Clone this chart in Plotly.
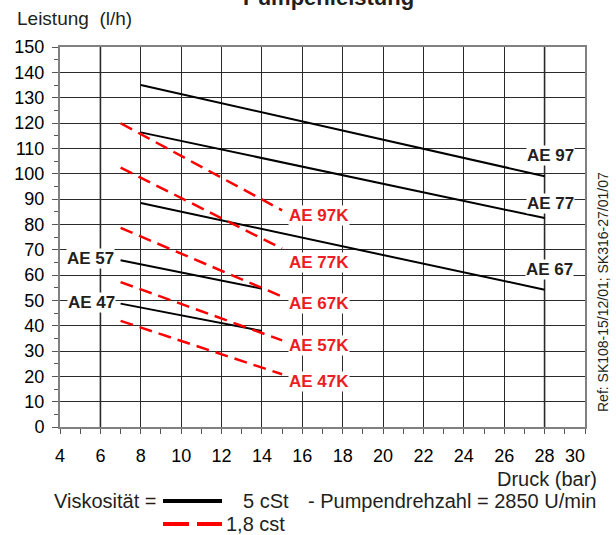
import plotly.graph_objects as go

# ---------------- data ----------------
pressure_ticks = [4, 6, 8, 10, 12, 14, 16, 18, 20, 22, 24, 26, 28, 30]
tick_labels = ["4", "6", "8", "10", "12", "14", "16", "18", "20", "22", "24", "26", "28",
               "30\u00a0\u00a0\u00a0\u00a0"]

# 5 cSt pumps (solid black): start pressure, end pressure, start flow, end flow
pumps_5 = ["AE 97", "AE 77", "AE 67", "AE 57", "AE 47"]
p5_start = [8, 8, 8, 7, 7]
p5_end = [28, 28, 28, 14, 14]
q5_start = [135.0, 116.3, 88.4, 65.8, 48.7]
q5_end = [99.0, 82.5, 54.2, 54.6, 37.9]
# label positions (pressure, flow)
lab5_x = [28.3, 28.3, 28.25, 5.53, 5.57]
lab5_y = [107.2, 88.2, 62.0, 66.7, 49.3]

# 1,8 cSt pumps (dashed red)
pumps_18 = ["AE 97K", "AE 77K", "AE 67K", "AE 57K", "AE 47K"]
p18_start = [7, 7, 7, 7, 7]
p18_end = [15, 15, 15, 15, 15]
q18_start = [119.9, 102.4, 78.6, 57.2, 41.9]
q18_end = [85.5, 70.4, 51.5, 34.2, 20.8]
lab18_x = [16.85, 16.85, 16.85, 16.85, 16.85]
lab18_y = [83.4, 65.0, 48.8, 32.3, 17.8]

FONT = "Liberation Sans, Arial, sans-serif"
RED_LINE = "#ff0000"
RED_TEXT = "#ed1c24"
DARK = "#231f20"

# ---------------- figure ----------------
fig = go.Figure()

for name, x0, x1, y0, y1 in zip(pumps_5, p5_start, p5_end, q5_start, q5_end):
    fig.add_trace(go.Scatter(x=[x0, x1], y=[y0, y1], mode="lines", name=name,
                             line=dict(color="black", width=2), showlegend=False,
                             hoverinfo="skip"))
for name, x0, x1, y0, y1 in zip(pumps_18, p18_start, p18_end, q18_start, q18_end):
    fig.add_trace(go.Scatter(x=[x0, x1], y=[y0, y1], mode="lines", name=name,
                             line=dict(color=RED_LINE, width=2.5, dash="13px,7px"),
                             showlegend=False, hoverinfo="skip"))

annotations = []
for t, x, y in zip(pumps_5, lab5_x, lab5_y):
    annotations.append(dict(x=x, y=y, xref="x", yref="y", text="<b>%s</b>" % t,
                            showarrow=False, bgcolor="white", borderpad=0,
                            font=dict(family=FONT, size=17, color=DARK)))
for t, x, y in zip(pumps_18, lab18_x, lab18_y):
    annotations.append(dict(x=x, y=y, xref="x", yref="y", text="<b>%s</b>" % t,
                            showarrow=False, bgcolor="white", borderpad=0,
                            font=dict(family=FONT, size=17, color=RED_TEXT)))

L, R, T, B = 60, 31, 47, 108
W, H = 616, 535
PW, PH = W - L - R, H - T - B


def px(xp):
    return (xp - L) / PW


def py(yp):
    return (H - B - yp) / PH


txt = dict(family=FONT, size=19, color=DARK)
txt20 = dict(family=FONT, size=20, color=DARK)
annotations += [
    dict(x=px(328), y=py(-2), xref="paper", yref="paper", text="<b>Pumpenleistung</b>",
         showarrow=False, xanchor="center", yanchor="middle",
         font=dict(family=FONT, size=22, color=DARK)),
    dict(x=px(15), y=py(19), xref="paper", yref="paper", text="Leistung\u00a0 (l/h)",
         showarrow=False, xanchor="left", yanchor="middle", font=txt),
    dict(x=px(599), y=py(479), xref="paper", yref="paper", text="Druck (bar)",
         showarrow=False, xanchor="right", yanchor="middle", font=txt20),
    dict(x=px(158), y=py(501), xref="paper", yref="paper", text="Viskosität =",
         showarrow=False, xanchor="right", yanchor="middle", font=txt20),
    dict(x=px(241), y=py(501), xref="paper", yref="paper", text="5 cSt",
         showarrow=False, xanchor="left", yanchor="middle", font=txt20),
    dict(x=px(599), y=py(501), xref="paper", yref="paper",
         text="- Pumpendrehzahl = 2850 U/min",
         showarrow=False, xanchor="right", yanchor="middle", font=txt20),
    dict(x=px(224), y=py(524), xref="paper", yref="paper", text="1,8 cst",
         showarrow=False, xanchor="left", yanchor="middle", font=txt20),
    dict(x=px(603), y=py(292), xref="paper", yref="paper",
         text="Ref: SK108-15/12/01; SK316-27/01/07", textangle=-90,
         showarrow=False, xanchor="center", yanchor="middle",
         font=dict(family=FONT, size=14, color=DARK)),
]

shapes = [
    # heavier grey grid lines at 6 and 28 bar
    dict(type="line", xref="x", yref="paper", x0=6, x1=6, y0=0, y1=1,
         line=dict(color="#808080", width=2), layer="between"),
    dict(type="line", xref="x", yref="paper", x0=28, x1=28, y0=0, y1=1,
         line=dict(color="#808080", width=2), layer="between"),
    # legend samples
    dict(type="line", xref="paper", yref="paper", x0=px(163), x1=px(222), y0=py(501), y1=py(501),
         line=dict(color="black", width=4)),
    dict(type="line", xref="paper", yref="paper", x0=px(163), x1=px(189), y0=py(524), y1=py(524),
         line=dict(color=RED_LINE, width=4)),
    dict(type="line", xref="paper", yref="paper", x0=px(197), x1=px(222), y0=py(524), y1=py(524),
         line=dict(color=RED_LINE, width=4)),
]

fig.update_layout(
    width=W, height=H,
    margin=dict(l=L, r=R, t=T, b=B, pad=0),
    paper_bgcolor="white", plot_bgcolor="white",
    showlegend=False,
    annotations=annotations,
    shapes=shapes,
    xaxis=dict(range=[4, 30], tickvals=pressure_ticks, ticktext=tick_labels,
               showgrid=True, gridcolor="#2a2a2a", gridwidth=1,
               showline=True, linecolor="#808080", linewidth=2, mirror=True,
               ticks="outside", ticklen=5, tickcolor="#555555", tickwidth=1,
               minor=dict(dtick=1, ticks="outside", ticklen=5, tickcolor="#555555", showgrid=False),
               tickfont=dict(family=FONT, size=18, color="black"),
               ticklabelstandoff=6, zeroline=False, fixedrange=True),
    yaxis=dict(range=[0, 150], dtick=10,
               showgrid=True, gridcolor="#2a2a2a", gridwidth=1,
               showline=True, linecolor="#808080", linewidth=2, mirror=True,
               ticks="outside", ticklen=6, tickcolor="#555555", tickwidth=1,
               minor=dict(dtick=5, ticks="outside", ticklen=4, tickcolor="#555555", showgrid=False),
               tickfont=dict(family=FONT, size=18, color="black"),
               ticklabelstandoff=4, zeroline=False, fixedrange=True),
)

fig.write_html("out.html", config={"displayModeBar": False},
               post_script="document.body.style.margin='0';")
